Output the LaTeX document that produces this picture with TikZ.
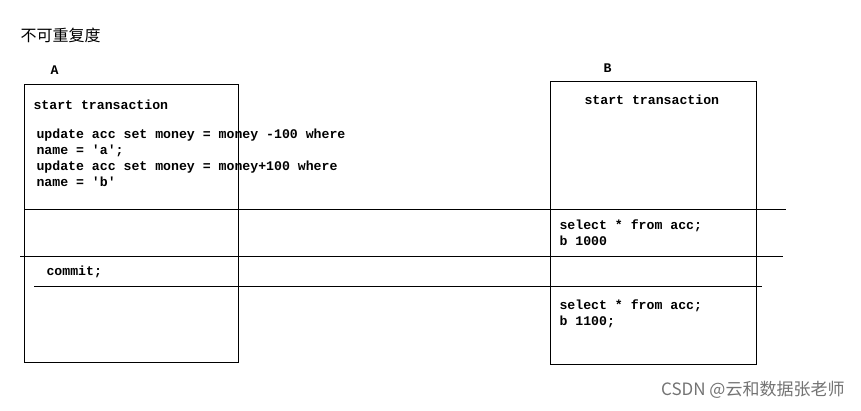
\documentclass[tikz,border=0pt]{standalone}
\usepackage{fontspec}
\setmonofont{Liberation Mono}
\newfontfamily\cjk{Noto Sans CJK SC}
\usetikzlibrary{positioning}
\tikzset{>=latex}

\begin{document}
\begin{tikzpicture}[x=1pt, y=-1pt, line width=1pt,
    code/.style={font=\ttfamily\bfseries\fontsize{13.2}{16}\selectfont, anchor=base west, inner sep=0pt, align=left},
    tbox/.style={draw, rectangle, anchor=north west, inner sep=0pt}]
      \useasboundingbox (0,0) rectangle (861,410);
      \node[anchor=west, inner sep=0pt, font=\cjk\fontsize{16}{16}\selectfont] (title) at (20,35) {不可重复度};
      % transaction A
      \node[code] (la) at (50,74) {A};
      \node[tbox, minimum width=214pt, minimum height=278pt] (boxA) at (24,84) {};
      \node[code] (a0) at (33,109) {start transaction};
      \node[code] (a1) at (36,186) {update acc set money = money -100 where\\name = 'a';\\update acc set money = money+100 where\\name = 'b'};
      \node[code] (a2) at (46,275) {commit;};
      % transaction B
      \node[code] (lb) at (603,72) {B};
      \node[tbox, minimum width=206pt, minimum height=283pt] (boxB) at (549.5,80.5) {};
      \node[code] (b0) at (584,104) {start transaction};
      \node[code] (b1) at (559,245) {select * from acc;\\b 1000};
      \node[code] (b2) at (559,325) {select * from acc;\\b 1100;};
      % time steps
      \coordinate (s1) at (24,209);
      \coordinate (e1) at (786,209);
      \coordinate (s2) at (20,256);
      \coordinate (e2) at (783,256);
      \coordinate (s3) at (34,286);
      \coordinate (e3) at (762,286);
      \draw (s1) -- (e1);
      \draw (s2) -- (e2);
      \draw (s3) -- (e3);
      \node[anchor=east, inner sep=0pt, text=black!55, font=\cjk\fontsize{17}{17}\selectfont] (mark) at (845,390) {CSDN @云和数据张老师};
\end{tikzpicture}
\end{document}
